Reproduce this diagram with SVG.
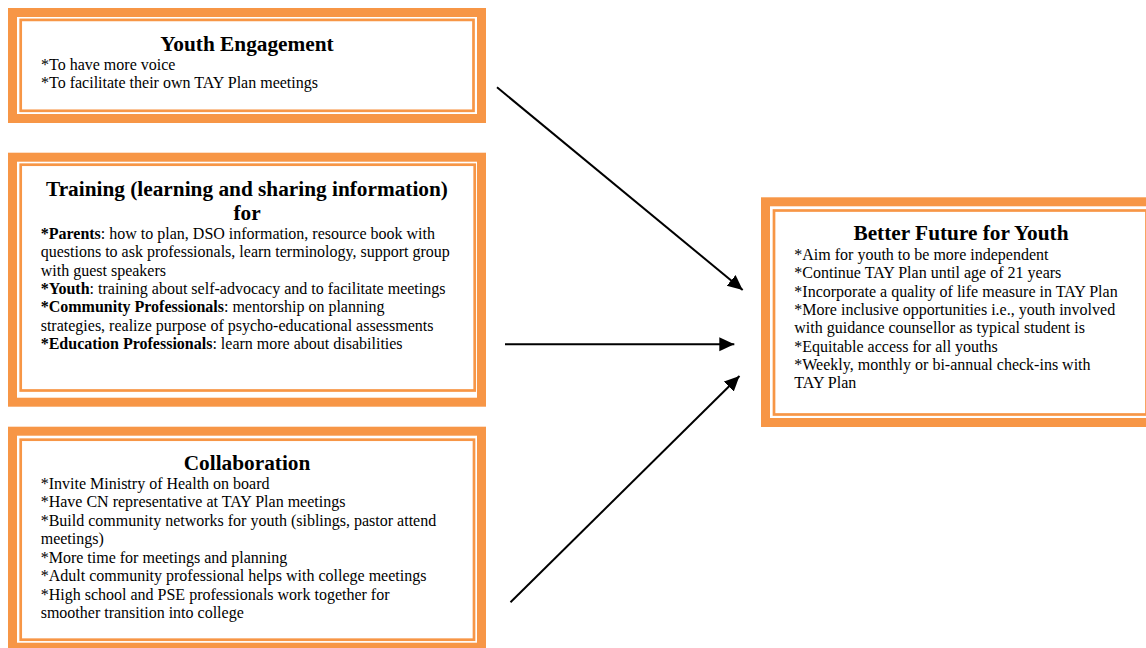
<svg xmlns="http://www.w3.org/2000/svg" width="1146" height="648" viewBox="0 0 1146 648">
  <defs>
    <style>
      .frame { fill: #ffffff; stroke: #F79646; stroke-width: 9; }
      .rule { fill: none; stroke: #F79646; stroke-width: 2.7; }
      .title { font-family: "Liberation Serif", "Times New Roman", serif; font-size: 21.3px; font-weight: bold; fill: #000; text-anchor: middle; }
      .body { font-family: "Liberation Serif", "Times New Roman", serif; font-size: 16px; fill: #000; }
      .b { font-weight: bold; }
      .conn { stroke: #000; stroke-width: 2; fill: none; marker-end: url(#head); }
    </style>
    <marker id="head" markerUnits="userSpaceOnUse" markerWidth="16" markerHeight="15" refX="15" refY="7" orient="auto">
      <path d="M0,0 L15,7 L0,14 Z" fill="#000"/>
    </marker>
  </defs>

  <rect width="1146" height="648" fill="#ffffff"/>

  <!-- Youth Engagement -->
  <g id="youth-engagement">
    <rect class="frame" x="12.5" y="12.5" width="469" height="106"/>
    <rect class="rule" x="20.7" y="19.9" width="452.8" height="90.9"/>
    <text class="title" x="247" y="51">Youth Engagement</text>
    <text class="body" x="41" y="69.5">*To have more voice</text>
    <text class="body" x="41" y="88">*To facilitate their own TAY Plan meetings</text>
  </g>

  <!-- Training -->
  <g id="training">
    <rect class="frame" x="12.5" y="157.2" width="469" height="245"/>
    <rect class="rule" x="20.7" y="164.7" width="454" height="225.8"/>
    <text class="title" x="247" y="195.5">Training (learning and sharing information)</text>
    <text class="title" x="247" y="219.5">for</text>
    <text class="body" x="40.7" y="239"><tspan class="b">*Parents</tspan>: how to plan, DSO information, resource book with</text>
    <text class="body" x="40.7" y="257.3">questions to ask professionals, learn terminology, support group</text>
    <text class="body" x="40.7" y="275.6">with guest speakers</text>
    <text class="body" x="40.7" y="293.9"><tspan class="b">*Youth</tspan>: training about self-advocacy and to facilitate meetings</text>
    <text class="body" x="40.7" y="312.2"><tspan class="b">*Community Professionals</tspan>: mentorship on planning</text>
    <text class="body" x="40.7" y="330.5">strategies, realize purpose of psycho-educational assessments</text>
    <text class="body" x="40.7" y="348.8"><tspan class="b">*Education Professionals</tspan>: learn more about disabilities</text>
  </g>

  <!-- Collaboration -->
  <g id="collaboration">
    <rect class="frame" x="12.5" y="431.2" width="469" height="216"/>
    <rect class="rule" x="20.7" y="439.7" width="453.3" height="200"/>
    <text class="title" x="247" y="470">Collaboration</text>
    <text class="body" x="40.7" y="488.5">*Invite Ministry of Health on board</text>
    <text class="body" x="40.7" y="507">*Have CN representative at TAY Plan meetings</text>
    <text class="body" x="40.7" y="525.5">*Build community networks for youth (siblings, pastor attend</text>
    <text class="body" x="40.7" y="544">meetings)</text>
    <text class="body" x="40.7" y="562.5">*More time for meetings and planning</text>
    <text class="body" x="40.7" y="581">*Adult community professional helps with college meetings</text>
    <text class="body" x="40.7" y="599.5">*High school and PSE professionals work together for</text>
    <text class="body" x="40.7" y="618">smoother transition into college</text>
  </g>

  <!-- Better Future for Youth -->
  <g id="better-future">
    <rect class="frame" x="765.5" y="201.8" width="391" height="220.7"/>
    <rect class="rule" x="774" y="210.5" width="372.5" height="204"/>
    <text class="title" x="961" y="239.5">Better Future for Youth</text>
    <text class="body" x="794.3" y="260">*Aim for youth to be more independent</text>
    <text class="body" x="794.3" y="278.3">*Continue TAY Plan until age of 21 years</text>
    <text class="body" x="794.3" y="296.6">*Incorporate a quality of life measure in TAY Plan</text>
    <text class="body" x="794.3" y="314.9">*More inclusive opportunities i.e., youth involved</text>
    <text class="body" x="794.3" y="333.2">with guidance counsellor as typical student is</text>
    <text class="body" x="794.3" y="351.5">*Equitable access for all youths</text>
    <text class="body" x="794.3" y="369.8">*Weekly, monthly or bi-annual check-ins with</text>
    <text class="body" x="794.3" y="388.1">TAY Plan</text>
  </g>

  <!-- Connectors -->
  <g id="connectors">
    <line class="conn" x1="497" y1="87.3" x2="742.7" y2="290"/>
    <line class="conn" x1="505" y1="344.3" x2="734.3" y2="344.3"/>
    <line class="conn" x1="510.5" y1="602.3" x2="739.5" y2="376"/>
  </g>
</svg>
